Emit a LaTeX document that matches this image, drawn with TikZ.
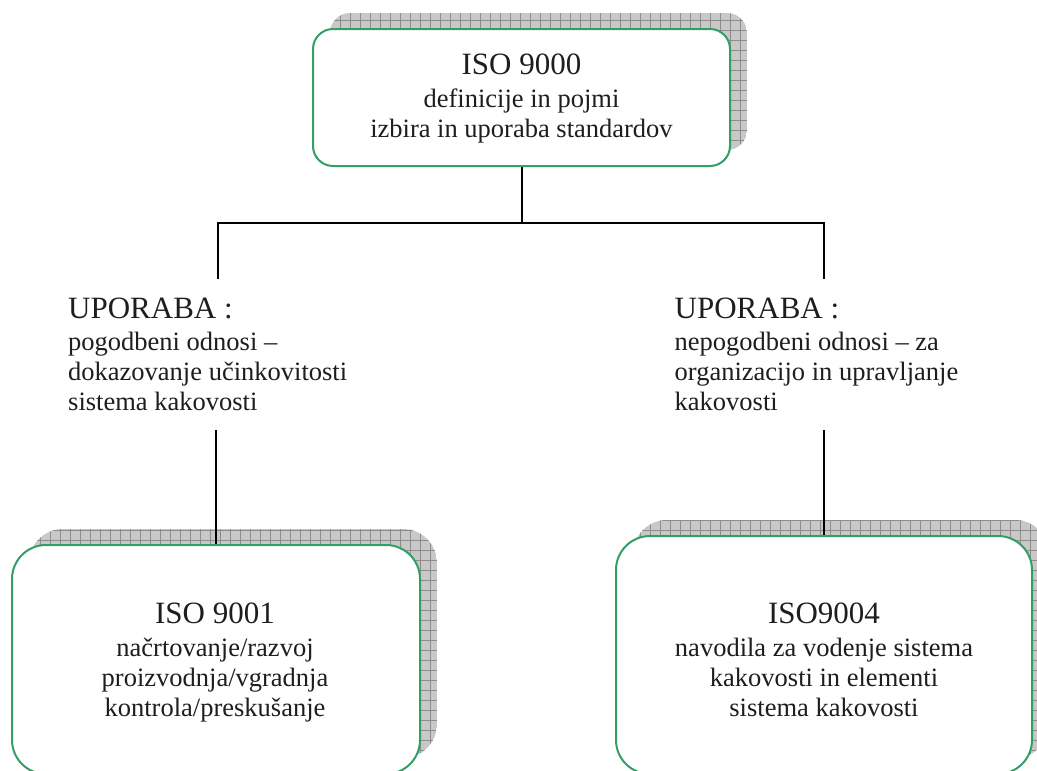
\documentclass[tikz,border=0pt]{standalone}
\usepackage{fontspec}
\setmainfont{Liberation Serif}
\definecolor{boxgreen}{RGB}{52,158,104}
\definecolor{shadowfill}{RGB}{200,200,200}
\definecolor{shadowgrid}{RGB}{140,140,140}
\definecolor{ink}{RGB}{30,30,30}
% hatched drop shadow: x1 y1 x2 y2 corner radius
\newcommand\gridshadow[5]{%
  \begin{scope}
    \clip[rounded corners=#5] (#1,#2) rectangle (#3,#4);
    \fill[shadowfill] (#1,#2) rectangle (#3,#4);
    \draw[shadowgrid, line width=0.7pt, step=10pt] (#1,#2) grid (#3,#4);
  \end{scope}}
\begin{document}
\begin{tikzpicture}[x=1pt, y=-1pt,
  stdbox/.style={draw=boxgreen, line width=2pt, fill=white, inner sep=0pt},
  boxtext/.style={text=ink, align=center, inner sep=0pt, anchor=north,
    font=\fontsize{26.5}{30}\selectfont},
  usetext/.style={text=ink, align=left, inner xsep=0pt, inner ysep=19pt,
    anchor=north west, font=\fontsize{26.5}{30}\selectfont},
  conn/.style={draw=black, line width=2pt},
  titlefont/.style={}]
\useasboundingbox (0,0) rectangle (1037,771);
\clip (0,0) rectangle (1037,771);

% shadows behind the three boxes
\gridshadow{330}{13}{747}{150}{20pt}
\gridshadow{29}{529}{437}{758}{34pt}
\gridshadow{633}{520}{1049}{758}{34pt}

% boxes
\node[stdbox, rounded corners=20pt, minimum width=417pt, minimum height=137pt]
  (top) at (521.5,97.5) {};
\node[stdbox, rounded corners=34pt, minimum width=408pt, minimum height=229pt]
  (botL) at (216,659.5) {};
\node[stdbox, rounded corners=34pt, minimum width=416pt, minimum height=238pt]
  (botR) at (824,655) {};

% box texts
\node[boxtext] (topT) at (521.5,54)
  {{\fontsize{31}{33}\selectfont ISO 9000}\\[3pt]
   definicije in pojmi\\ izbira in uporaba standardov};
\node[boxtext] (botLT) at (215,603)
  {{\fontsize{31}{33}\selectfont ISO 9001}\\[3pt]
   načrtovanje/razvoj\\ proizvodnja/vgradnja\\ kontrola/preskušanje};
\node[boxtext] (botRT) at (824,603)
  {{\fontsize{31}{33}\selectfont ISO9004}\\[3pt]
   navodila za vodenje sistema\\ kakovosti in elementi\\ sistema kakovosti};

% usage descriptions
\node[usetext] (useL) at (68,279)
  {{\fontsize{31}{33}\selectfont UPORABA :}\\[2pt]
   pogodbeni odnosi –\\ dokazovanje učinkovitosti\\ sistema kakovosti};
\node[usetext] (useR) at (674.5,279)
  {{\fontsize{31}{33}\selectfont UPORABA :}\\[2pt]
   nepogodbeni odnosi – za\\ organizacijo in upravljanje\\ kakovosti};

% connectors
\coordinate (jT) at (521.5,223);
\coordinate (jL) at (218,223);
\coordinate (jR) at (824,223);
\draw[conn] (top.south) -- (jT);
\draw[conn] (jL |- useL.north) -- (jL) -- (jR) -- (jR |- useR.north);
\draw[conn] (botL.north |- useL.south) -- (botL.north);
\draw[conn] (botR.north |- useR.south) -- (botR.north);
\end{tikzpicture}
\end{document}
